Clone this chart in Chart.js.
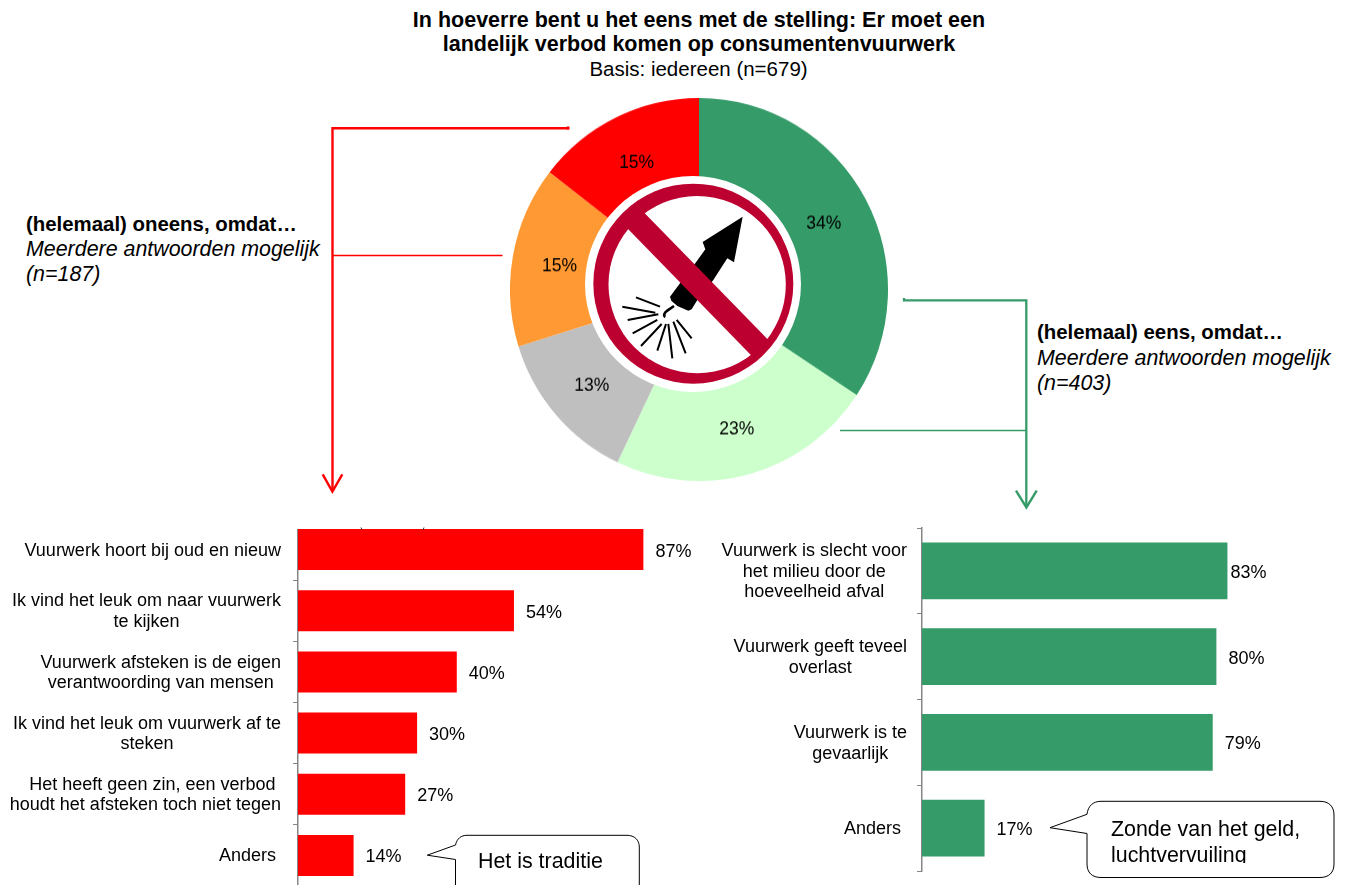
<!DOCTYPE html>
<html lang="nl">
<head>
<meta charset="utf-8">
<title>Landelijk verbod op consumentenvuurwerk</title>
<script src="https://cdn.jsdelivr.net/npm/chart.js@4"></script>
<style>
    html, body { margin: 0; width: 1346px; height: 885px; overflow: hidden; background: #fff; }
    body { position: relative; font-family: "Liberation Sans", Arial, sans-serif; color: #000; }
    canvas, .txt, svg, .clip { position: absolute; }
    .clip { overflow: hidden; }
    .txt { white-space: nowrap; }
</style>
</head>
<body>
<div class="txt" style="left:0;width:1398px;top:8px;text-align:center;font-size:21.5px;line-height:24px;font-weight:bold">In hoeverre bent u het eens met de stelling: Er moet een<br>landelijk verbod komen op consumentenvuurwerk</div>
<div class="txt" style="left:0;width:1397px;top:57px;text-align:center;font-size:20.5px;line-height:23px">Basis: iedereen (n=679)</div>

<div class="txt" style="left:26px;top:212px;font-size:21.4px;line-height:25px"><b style="font-size:20.4px">(helemaal) oneens, omdat…</b><br><i>Meerdere antwoorden mogelijk<br>(n=187)</i></div>
<div class="txt" style="left:1037px;top:320px;font-size:21.4px;line-height:25.5px"><b style="font-size:20.4px">(helemaal) eens, omdat…</b><br><i>Meerdere antwoorden mogelijk<br>(n=403)</i></div>

<canvas id="pie" width="378" height="378" style="left:510px;top:98.3px;transform:scaleY(1.0132);transform-origin:0 0"></canvas>
<div class="clip" style="left:0;top:529px;width:695px;height:356px">
    <canvas id="barsOneens" width="695" height="367" style="left:0;top:-10px"></canvas>
</div>
<canvas id="barsEens" width="590" height="345" style="left:700px;top:527px"></canvas>

<svg width="1346" height="885" viewBox="0 0 1346 885" style="left:0;top:0" fill="none">
    <defs>
        <clipPath id="ring"><circle cx="310" cy="311" r="298"/></clipPath>
    </defs>
    <!-- connectors -->
    <g stroke="#FF0000">
        <path d="M569 128.3H332.5V491" stroke-width="2.4"/>
        <path d="M568 126.5V129.5" stroke-width="3"/>
        <path d="M332.5 255.5H502.5" stroke-width="1.6"/>
        <path d="M322.7 474.3L332.4 491.5L342.3 474.3" stroke-width="2.4"/>
    </g>
    <g stroke="#359B69">
        <path d="M904 298V300.3H1026.3V507" stroke-width="2.3"/>
        <path d="M840 430.5H1026" stroke-width="1.6"/>
        <path d="M1016 490.7L1026.4 507.5L1036.7 490.7" stroke-width="2.4"/>
    </g>
    <path d="M361 527.5L362 530M423 530L424 527.5" stroke="#333" stroke-width="1"/>

    <!-- verbodsbord -->
    <g transform="translate(590 180) scale(0.3333)">
        <circle cx="309" cy="312" r="324" fill="#fff"/>
        <circle cx="310" cy="311" r="300" fill="#BC0030"/>
        <circle cx="321.5" cy="314" r="266" fill="#fff"/>
        <path d="M458 110L338 186L346 208L312 255L270 310L240 350L244 362L262 378L295 392L305 388L322 360L370 300L412 235L432 247Z" fill="#000"/>
        <path d="M252 378L232 392C222 398 220 408 226 411" stroke="#000" stroke-width="8"/>
        <path d="M138 352L210 380M97 380L196 398M113 420L205 403M128 460L202 420M153 498L215 432M202 512L228 432M247 535L235 432M287 520L250 425M305 475L260 420" stroke="#000" stroke-width="6"/>
        <path d="M100 83L550 545" stroke="#BC0030" stroke-width="69" clip-path="url(#ring)"/>
    </g>

    <!-- tekstballonnen -->
    <path d="M455.5 885V859.5L427.3 855.2L455.5 845C457 838.5 461 835.3 467 835.3H627C634.5 835.3 639.3 840 639.3 847V885" fill="#fff" stroke="#000" stroke-width="1"/>
    <path d="M1087 833.5L1050 827.7L1087 814.3C1088 806 1093 801.3 1101 801.3H1320C1329 801.3 1334 806.5 1334 815V864C1334 872.5 1329 877.5 1320 877.5H1101C1092 877.5 1087 872.5 1087 864Z" fill="#fff" stroke="#000" stroke-width="1"/>
</svg>

<div class="txt" style="left:478px;top:849px;font-size:21.4px;line-height:24px">Het is traditie</div>
<div class="txt" style="left:1111px;top:816px;height:47px;overflow:hidden;font-size:21.4px;line-height:26px">Zonde van het geld,<br>luchtvervuiling</div>

<script>
const pieLabels = ["(helemaal) eens", "Eens", "Neutraal", "Oneens", "(helemaal) oneens"];
const pieValues = [34.3, 22.8, 13.1, 15.3, 14.5];
const pieColors = ["#359B69", "#CCFFCC", "#BFBFBF", "#FF9933", "#FF0000"];

const oneensCategories = [
    ["Vuurwerk hoort bij oud en nieuw"],
    ["Ik vind het leuk om naar vuurwerk", "te kijken"],
    ["Vuurwerk afsteken is de eigen", "verantwoording van mensen"],
    ["Ik vind het leuk om vuurwerk af te", "steken"],
    ["Het heeft geen zin, een verbod", "houdt het afsteken toch niet tegen"],
    ["Anders"],
];
const oneensValues = [87, 54.4, 40, 30, 27, 14];

const eensCategories = [
    ["Vuurwerk is slecht voor", "het milieu door de", "hoeveelheid afval"],
    ["Vuurwerk geeft teveel", "overlast"],
    ["Vuurwerk is te", "gevaarlijk"],
    ["Anders"],
];
const eensValues = [83, 80, 79, 17];

const FONT_FAMILY = '"Liberation Sans", Arial, sans-serif';
const AXIS = "#868686";

Chart.defaults.animation = false;
Chart.defaults.devicePixelRatio = 1;
Chart.defaults.responsive = false;
Chart.defaults.plugins.legend.display = false;
Chart.defaults.plugins.tooltip.enabled = false;

// percentages on the doughnut and at the end of the bars
const valueLabels = {
    id: "valueLabels",
    afterDatasetsDraw(chart, args, opts) {
        const ctx = chart.ctx;
        const values = chart.data.datasets[0].data;
        ctx.save();
        ctx.fillStyle = "#000";
        ctx.textBaseline = "middle";
        chart.getDatasetMeta(0).data.forEach((el, i) => {
            const text = Math.round(values[i]) + "%";
            if (chart.config.type === "doughnut") {
                const p = el.tooltipPosition();
                ctx.font = "17.5px " + FONT_FAMILY;
                ctx.textAlign = "center";
                ctx.fillText(text, p.x, p.y + 2);
            } else {
                ctx.font = "18px " + FONT_FAMILY;
                ctx.textAlign = "left";
                ctx.fillText(text, el.x + opts.gaps[i], el.y + 2);
            }
        });
        ctx.restore();
    },
};

// category text: right aligned block, lines centred inside the block
const rowLabels = {
    id: "rowLabels",
    afterDraw(chart, args, opts) {
        const ctx = chart.ctx;
        const scale = chart.scales.y;
        ctx.save();
        ctx.font = "18px " + FONT_FAMILY;
        ctx.fillStyle = "#000";
        ctx.textAlign = "center";
        ctx.textBaseline = "middle";
        chart.data.labels.forEach((lines, i) => {
            const widest = Math.max(...lines.map((l) => ctx.measureText(l).width));
            const cx = opts.right[i] - widest / 2;
            const y0 = scale.getPixelForValue(i) + 1 - ((lines.length - 1) * opts.lineHeight) / 2;
            lines.forEach((line, j) => {
                const nudge = (opts.nudge[i] && opts.nudge[i][j]) || 0;
                ctx.fillText(line, cx + nudge, y0 + j * opts.lineHeight);
            });
        });
        ctx.restore();
    },
};

function barChart(id, categories, values, color, axisWidth, barPct, padding, labelOpts) {
    return new Chart(document.getElementById(id), {
        type: "bar",
        data: {
            labels: categories,
            datasets: [{ data: values, backgroundColor: color, barPercentage: barPct, categoryPercentage: 1 }],
        },
        options: {
            indexAxis: "y",
            layout: { padding },
            scales: {
                x: { display: false, min: 0, max: 100 },
                y: {
                    ticks: { display: false },
                    grid: { offset: true, drawOnChartArea: false, tickLength: 5, color: AXIS, lineWidth: 1 },
                    border: { color: AXIS, width: 1.5 },
                    afterFit(s) { s.width = axisWidth; },
                },
            },
            plugins: {
                valueLabels: { gaps: labelOpts.gaps },
                rowLabels: { right: labelOpts.right, lineHeight: 20.5, nudge: labelOpts.nudge || {} },
            },
        },
        plugins: [valueLabels, rowLabels],
    });
}

new Chart(document.getElementById("pie"), {
    type: "doughnut",
    data: {
        labels: pieLabels,
        datasets: [{ data: pieValues, backgroundColor: pieColors, borderWidth: 0 }],
    },
    options: { cutout: "50%", layout: { padding: 0 } },
    plugins: [valueLabels],
});

barChart("barsOneens", oneensCategories, oneensValues, "#FF0000", 298, 0.67, { top: 0, bottom: 0 }, {
    gaps: [12, 12, 12, 12, 12, 12],
    right: [281, 281, 281, 281, 281, 276],
    nudge: { 4: [7, 0] },
});

barChart("barsEens", eensCategories, eensValues, "#359B69", 222, 0.662, { top: 1, bottom: 1 }, {
    gaps: [3, 12, 12, 12],
    right: [207, 207, 207, 201],
});
</script>
</body>
</html>
